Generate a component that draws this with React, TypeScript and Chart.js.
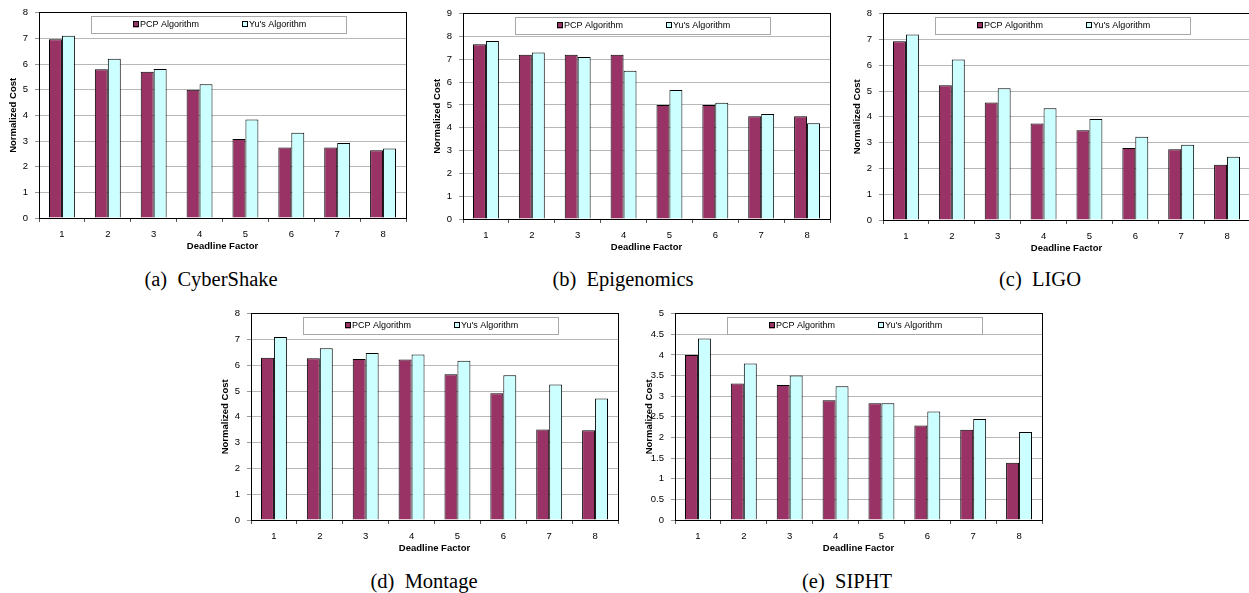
import React, { useEffect, useRef } from "react";
import { Chart, registerables } from "chart.js";

Chart.register(...registerables);

// ---------- data ----------
const categories = ["1", "2", "3", "4", "5", "6", "7", "8"];
const seriesNames = ["PCP Algorithm", "Yu's Algorithm"];

const cyberShakePCP = [6.97, 5.8, 5.7, 5.0, 3.08, 2.75, 2.75, 2.64];
const cyberShakeYu = [7.1, 6.21, 5.81, 5.21, 3.84, 3.32, 2.92, 2.71];

const epigenomicsPCP = [7.66, 7.2, 7.2, 7.2, 5.0, 5.0, 4.5, 4.5];
const epigenomicsYu = [7.8, 7.3, 7.1, 6.5, 5.66, 5.1, 4.6, 4.2];

const ligoPCP = [6.93, 5.23, 4.56, 3.74, 3.48, 2.79, 2.74, 2.14];
const ligoYu = [7.19, 6.22, 5.11, 4.33, 3.92, 3.23, 2.92, 2.45];

const montagePCP = [6.29, 6.27, 6.24, 6.22, 5.65, 4.92, 3.51, 3.48];
const montageYu = [7.1, 6.66, 6.48, 6.42, 6.18, 5.61, 5.25, 4.71];

const siphtPCP = [4.0, 3.31, 3.27, 2.9, 2.83, 2.29, 2.19, 1.39];
const siphtYu = [4.4, 3.79, 3.5, 3.24, 2.83, 2.63, 2.45, 2.13];

const yMax = [8, 9, 8, 8, 5];
const yStep = [1, 1, 1, 1, 0.5];
const captions = ["(a)  CyberShake", "(b)  Epigenomics", "(c)  LIGO", "(d)  Montage", "(e)  SIPHT"];
const seriesPCP = [cyberShakePCP, epigenomicsPCP, ligoPCP, montagePCP, siphtPCP];
const seriesYu = [cyberShakeYu, epigenomicsYu, ligoYu, montageYu, siphtYu];

// ---------- layout (plot-area positions on the page) ----------
const plotRects = [
  { x: 39, y: 8, w: 367, h: 210 },
  { x: 463, y: 9, w: 367, h: 210 },
  { x: 883, y: 9, w: 367, h: 211 },
  { x: 251, y: 309, w: 367, h: 211 },
  { x: 675, y: 309, w: 367, h: 211 },
];
const captionPos = [
  { cx: 211, top: 269 },
  { cx: 623, top: 269 },
  { cx: 1040, top: 269 },
  { cx: 424, top: 571 },
  { cx: 847, top: 571 },
];

const Y_AXIS_W = 36;
const X_AXIS_H = 34;
const PAD_T = 8;
const PAD_R = 4;
const PAD_B = 2;

const SANS = "'Liberation Sans', Arial, sans-serif";
const PCP_COLOR = "#993366";
const YU_COLOR = "#CCFFFF";

const align = (p: number) => Math.round(p - 0.5) + 0.5;

const framePlugin = {
  id: "frameBox",
  afterDraw(chart: any) {
    const { ctx, chartArea: a } = chart;
    ctx.save();
    // legend box
    const bl = a.left + 52;
    const bt = a.top + 3.5;
    const bw = 255;
    const bh = 16.5;
    ctx.fillStyle = "#fff";
    ctx.fillRect(bl, bt, bw, bh);
    ctx.strokeStyle = "#a8a8a8";
    ctx.lineWidth = 1;
    ctx.strokeRect(align(bl), align(bt), Math.round(bw), Math.round(bh));
    const offsets = [42, 151];
    ctx.font = `9px ${SANS}`;
    ctx.textBaseline = "middle";
    ctx.textAlign = "left";
    chart.data.datasets.forEach((ds: any, i: number) => {
      const sx = bl + offsets[i];
      const sy = bt + bh / 2 - 3;
      ctx.fillStyle = ds.backgroundColor;
      ctx.fillRect(sx, sy, 6, 6);
      ctx.strokeStyle = "#000";
      ctx.strokeRect(align(sx), align(sy), 5, 5);
      ctx.fillStyle = "#000";
      ctx.fillText(ds.label, sx + 7, bt + bh / 2 + 0.5);
    });
    // plot frame
    ctx.strokeStyle = "#000";
    ctx.lineWidth = 1;
    const l = align(a.left);
    const t = align(a.top);
    const r = align(a.right);
    const b = align(a.bottom);
    ctx.strokeRect(l, t, r - l, b - t);
    ctx.restore();
  },
};

function Panel({ idx }: { idx: number }) {
  const ref = useRef<HTMLCanvasElement>(null);
  const rect = plotRects[idx];
  const cw = Y_AXIS_W + rect.w + PAD_R;
  const ch = PAD_T + rect.h + X_AXIS_H + PAD_B;
  useEffect(() => {
    if (!ref.current) return;
    const chart = new Chart(ref.current, {
      type: "bar",
      data: {
        labels: categories,
        datasets: [
          {
            label: seriesNames[0],
            data: seriesPCP[idx],
            backgroundColor: PCP_COLOR,
            borderColor: "#000",
            borderWidth: 1,
            categoryPercentage: 0.565,
            barPercentage: 1.0,
          },
          {
            label: seriesNames[1],
            data: seriesYu[idx],
            backgroundColor: YU_COLOR,
            borderColor: "#000",
            borderWidth: 1,
            categoryPercentage: 0.565,
            barPercentage: 1.0,
          },
        ],
      },
      options: {
        responsive: false,
        animation: false,
        layout: { padding: { left: 0, top: PAD_T, right: PAD_R, bottom: PAD_B } },
        plugins: { legend: { display: false }, tooltip: { enabled: false } },
        scales: {
          x: {
            grid: {
              display: true,
              drawOnChartArea: false,
              drawTicks: true,
              tickLength: 4,
              color: "#555",
              offset: true,
            },
            border: { display: true, color: "#000", width: 1 },
            ticks: {
              font: { family: SANS, size: 9.5 },
              color: "#000",
              padding: 7,
              autoSkip: false,
              maxRotation: 0,
            },
            title: {
              display: true,
              text: "Deadline Factor",
              font: { family: SANS, size: 9.5, weight: "bold" },
              color: "#000",
              padding: { top: 0, bottom: 0 },
            },
            afterFit: (s: any) => {
              s.height = X_AXIS_H;
            },
          },
          y: {
            min: 0,
            max: yMax[idx],
            ticks: {
              stepSize: yStep[idx],
              font: { family: SANS, size: 9.5 },
              color: "#000",
              padding: 7,
              callback: (v: any) => String(Math.round(Number(v) * 100) / 100),
            },
            grid: {
              color: "#b8b8b8",
              drawTicks: true,
              tickLength: 4,
              tickColor: "#999",
            },
            border: { display: true, color: "#000", width: 1 },
            title: {
              display: true,
              text: "Normalized Cost",
              font: { family: SANS, size: 9.5, weight: "bold" },
              color: "#000",
              padding: { top: 5, bottom: 0 },
            },
            afterFit: (s: any) => {
              s.width = Y_AXIS_W;
            },
          },
        },
      } as any,
      plugins: [framePlugin],
    });
    return () => chart.destroy();
  }, [idx]);
  return (
    <canvas
      ref={ref}
      width={cw}
      height={ch}
      style={{
        position: "absolute",
        left: rect.x - Y_AXIS_W,
        top: rect.y - PAD_T,
        width: cw,
        height: ch,
      }}
    />
  );
}

export default function App() {
  return (
    <div
      style={{
        position: "fixed",
        left: 0,
        top: 0,
        width: 1249,
        height: 593,
        overflow: "hidden",
        background: "#fff",
      }}
    >
      {plotRects.map((_, i) => (
        <Panel key={i} idx={i} />
      ))}
      {captions.map((c, i) => (
        <div
          key={"c" + i}
          style={{
            position: "absolute",
            left: captionPos[i].cx - 150,
            top: captionPos[i].top,
            width: 300,
            textAlign: "center",
            fontFamily: "'Liberation Serif', 'Times New Roman', serif",
            fontSize: 20.5,
            lineHeight: "20px",
            whiteSpace: "pre",
            color: "#000",
          }}
        >
          {c}
        </div>
      ))}
    </div>
  );
}
